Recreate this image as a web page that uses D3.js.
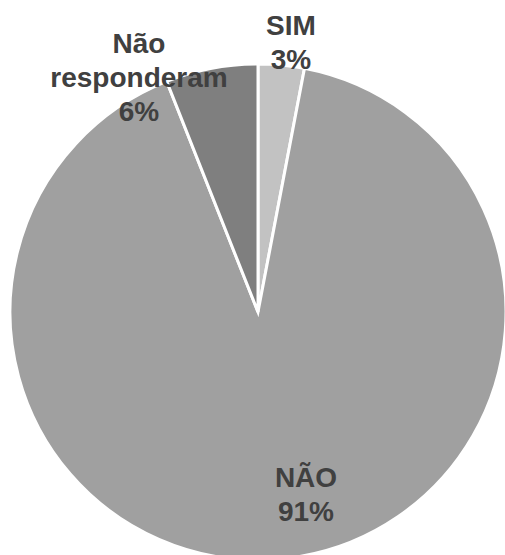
<!DOCTYPE html>
<html>
<head>
<meta charset="utf-8">
<script src="https://cdn.jsdelivr.net/npm/d3@7"></script>
<style>
  html, body { margin: 0; padding: 0; background: #ffffff; }
  svg { display: block; }
</style>
</head>
<body>
<svg id="chart" width="505" height="555"></svg>
<script>
// Survey answers, clockwise from 12 o'clock
const categories = ["SIM", "NÃO", "Não responderam"];
const values = [3, 91, 6];
const labelLines = [["SIM", "3%"], ["NÃO", "91%"], ["Não", "responderam", "6%"]];

const colors = ["#c2c2c2", "#a0a0a0", "#7f7f7f"];

const width = 505, height = 555;
const cx = 258, cy = 312, radius = 248;

// label anchors, relative to the pie centre (x of text centre, y of first baseline)
const labelOffsets = [[33, -277], [48, 175], [-119, -259]];
const lineStep = 34;

const svg = d3.select("#chart");
const g = svg.append("g").attr("transform", `translate(${cx},${cy})`);

const data = categories.map((c, i) => ({ category: c, value: values[i], lines: labelLines[i] }));

const pie = d3.pie().sort(null).value(d => d.value);
const arc = d3.arc().innerRadius(0).outerRadius(radius);
const color = d3.scaleOrdinal().domain(categories).range(colors);

const arcs = pie(data);

g.selectAll("path.slice")
  .data(arcs)
  .join("path")
  .attr("class", "slice")
  .attr("d", arc)
  .attr("fill", d => color(d.data.category))
  .attr("stroke", "#ffffff")
  .attr("stroke-width", 3)
  .attr("stroke-linejoin", "miter");

const labels = g.selectAll("text.label")
  .data(arcs)
  .join("text")
  .attr("class", "label")
  .attr("text-anchor", "middle")
  .attr("font-family", "'Liberation Sans', Arial, sans-serif")
  .attr("font-weight", "bold")
  .attr("font-size", 28)
  .attr("fill", "#404040");

labels.each(function(d, i) {
  const [ox, oy] = labelOffsets[i];
  d3.select(this).selectAll("tspan")
    .data(d.data.lines)
    .join("tspan")
    .attr("x", ox)
    .attr("y", (t, j) => oy + j * lineStep)
    .text(t => t);
});
</script>
</body>
</html>
